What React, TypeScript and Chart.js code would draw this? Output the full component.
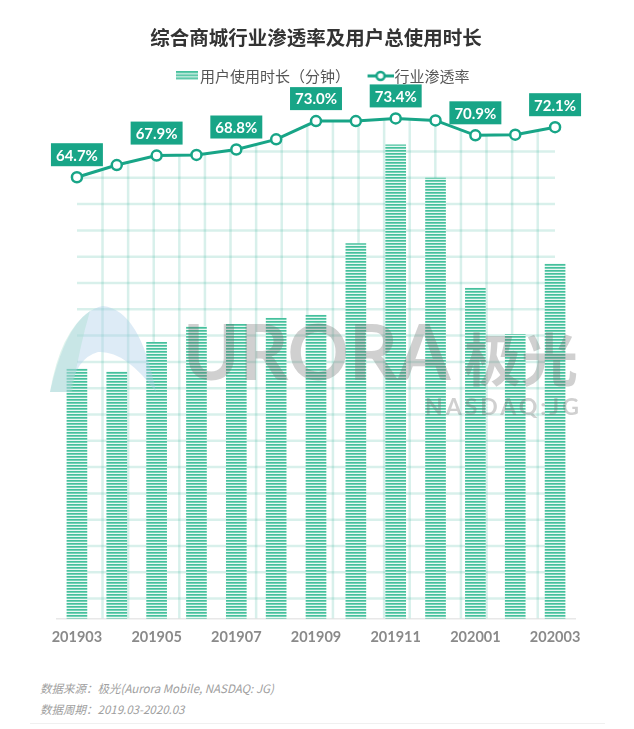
import React, { useEffect, useRef } from 'react';
import { Chart, registerables } from 'chart.js';

Chart.register(...registerables);

const categories = ['201903', '201904', '201905', '201906', '201907', '201908', '201909', '201910', '201911', '201912', '202001', '202002', '202003'];
const usageMinutes = [248, 245, 274, 290, 292, 298, 301, 372, 470, 437, 328, 282, 352];
const penetrationRate = [64.7, 66.5, 67.9, 68.0, 68.8, 70.3, 73.0, 73.0, 73.4, 73.1, 70.9, 71.0, 72.1];
const xTickLabels = ['201903', '201905', '201907', '201909', '201911', '202001', '202003'];
const labeledMonths = ['201903', '201905', '201907', '201909', '201911', '202001', '202003'];

const TITLE = '综合商城行业渗透率及用户总使用时长';
const BAR_LABEL = '用户使用时长（分钟）';
const LINE_LABEL = '行业渗透率';
const SOURCE = '数据来源：极光(Aurora Mobile, NASDAQ: JG)';
const PERIOD = '数据周期：2019.03-2020.03';

const TEAL = '#18a587';
const CJK = "'Noto Sans CJK SC', 'Noto Sans', sans-serif";
const NUM = "Lato, 'Noto Sans CJK SC', sans-serif";
const STRIPES = ['#45c09d', '#74d1b5', '#e9f8f3'];

function stripeCanvas(w: number, h: number, padLeft = 0) {
  const c = document.createElement('canvas');
  c.width = w + padLeft;
  c.height = h;
  const g = c.getContext('2d')!;
  for (let y = 0; y < h; y++) {
    g.fillStyle = STRIPES[y % 3];
    g.fillRect(padLeft, y, w, 1);
  }
  return c;
}

function lineIcon(padLeft: number) {
  const c = document.createElement('canvas');
  c.width = 26 + padLeft;
  c.height = 12;
  const g = c.getContext('2d')!;
  g.strokeStyle = TEAL;
  g.lineWidth = 3;
  g.beginPath();
  g.moveTo(padLeft, 6);
  g.lineTo(padLeft + 26, 6);
  g.stroke();
  g.beginPath();
  g.arc(padLeft + 13, 6, 4, 0, Math.PI * 2);
  g.fillStyle = '#fff';
  g.fill();
  g.lineWidth = 2.5;
  g.stroke();
  return c;
}

const gridPlugin = {
  id: 'underLineGrid',
  beforeDatasetsDraw(chart: any) {
    const meta = chart.getDatasetMeta(1);
    const pts = meta.data;
    if (!pts.length) return;
    const { ctx, chartArea } = chart;
    const bottom = chartArea.bottom;
    const first = pts[0];
    const last = pts[pts.length - 1];
    ctx.save();
    ctx.beginPath();
    ctx.moveTo(first.x, first.y);
    pts.forEach((p: any) => ctx.lineTo(p.x, p.y));
    ctx.lineTo(last.x, bottom);
    ctx.lineTo(first.x, bottom);
    ctx.closePath();
    ctx.clip();
    ctx.strokeStyle = 'rgba(24,165,135,0.17)';
    ctx.lineWidth = 2.5;
    for (let k = 0; k < 18; k++) {
      const y = bottom - 20 - k * 26.3;
      ctx.beginPath();
      ctx.moveTo(first.x, y);
      ctx.lineTo(last.x, y);
      ctx.stroke();
    }
    for (let k = 0; k < 18; k++) {
      const x = first.x + 25.6 * (k + 1);
      ctx.beginPath();
      ctx.moveTo(x, chartArea.top - 40);
      ctx.lineTo(x, bottom);
      ctx.stroke();
    }
    ctx.restore();
  },
};

const labelPlugin = {
  id: 'rateLabels',
  afterDatasetsDraw(chart: any) {
    const meta = chart.getDatasetMeta(1);
    const { ctx } = chart;
    ctx.save();
    ctx.font = `bold 15px ${NUM}`;
    ctx.textAlign = 'center';
    ctx.textBaseline = 'middle';
    meta.data.forEach((pt: any, i: number) => {
      if (!labeledMonths.includes(categories[i])) return;
      const text = penetrationRate[i].toFixed(1) + '%';
      const w = ctx.measureText(text).width + 10;
      const h = 23;
      const x = pt.x - w / 2;
      const y = pt.y - 11 - h;
      ctx.fillStyle = TEAL;
      ctx.fillRect(x, y, w, h);
      ctx.fillStyle = '#fff';
      ctx.fillText(text, pt.x, y + h / 2 + 1);
    });
    ctx.restore();
  },
};

const watermarkPlugin = {
  id: 'watermark',
  afterDraw(chart: any) {
    const { ctx } = chart;
    ctx.save();
    ctx.beginPath();
    ctx.moveTo(50, 392);
    ctx.quadraticCurveTo(68, 312, 103, 306);
    ctx.quadraticCurveTo(140, 310, 156, 392);
    ctx.quadraticCurveTo(125, 350, 98, 352);
    ctx.quadraticCurveTo(76, 358, 70, 392);
    ctx.closePath();
    ctx.fillStyle = 'rgba(170,205,232,0.4)';
    ctx.fill();
    ctx.beginPath();
    ctx.moveTo(50, 392);
    ctx.quadraticCurveTo(60, 332, 90, 311);
    ctx.quadraticCurveTo(80, 345, 72, 392);
    ctx.closePath();
    ctx.fillStyle = 'rgba(160,220,200,0.35)';
    ctx.fill();
    ctx.fillStyle = 'rgba(110,110,110,0.32)';
    ctx.textBaseline = 'alphabetic';
    ctx.textAlign = 'left';
    ctx.font = `bold 76px ${NUM}`;
    ctx.fillText('URORA', 183, 380);
    ctx.font = `bold 57px ${CJK}`;
    ctx.fillText('极光', 464, 381);
    ctx.font = `bold 23px ${NUM}`;
    (ctx as any).letterSpacing = '3px';
    ctx.fillText('NASDAQ:JG', 425, 415);
    ctx.restore();
  },
};

export default function App() {
  const ref = useRef<HTMLCanvasElement>(null);

  useEffect(() => {
    document.body.style.margin = '0';
    const canvas = ref.current!;
    const ctx = canvas.getContext('2d')!;
    const pattern = ctx.createPattern(stripeCanvas(3, 3), 'repeat')!;
    const barIcon = stripeCanvas(22, 9, 19);
    const lIcon = lineIcon(17);

    const chart = new Chart(canvas, {
      type: 'bar',
      data: {
        labels: categories,
        datasets: [
          {
            type: 'bar',
            label: BAR_LABEL,
            data: usageMinutes,
            backgroundColor: pattern as any,
            borderWidth: 0,
            barThickness: 20,
            yAxisID: 'y',
            order: 2,
          },
          {
            type: 'line',
            label: LINE_LABEL,
            data: penetrationRate,
            borderColor: TEAL,
            borderWidth: 3,
            pointRadius: 5,
            pointBorderWidth: 2.5,
            pointBackgroundColor: '#fff',
            pointBorderColor: TEAL,
            tension: 0,
            yAxisID: 'y1',
            order: 1,
            clip: false as any,
          },
        ] as any,
      },
      options: {
        responsive: false,
        animation: false,
        layout: { padding: { left: 57, right: 59, top: 26, bottom: 12 } },
        plugins: {
          title: {
            display: true,
            text: TITLE,
            color: '#333',
            font: { family: CJK, size: 19.5, weight: 'bold' },
            padding: { top: 0, bottom: 12 },
          },
          legend: {
            display: true,
            labels: {
              usePointStyle: true,
              pointStyleWidth: 30,
              padding: 7,
              color: '#555',
              font: { family: CJK, size: 15 },
              generateLabels: () => [
                { text: BAR_LABEL, pointStyle: barIcon as any, fillStyle: 'transparent', strokeStyle: 'transparent', lineWidth: 0, hidden: false, datasetIndex: 0, fontColor: '#555' },
                { text: LINE_LABEL, pointStyle: lIcon as any, fillStyle: 'transparent', strokeStyle: 'transparent', lineWidth: 0, hidden: false, datasetIndex: 1, fontColor: '#555' },
              ] as any,
            },
          },
          tooltip: { enabled: false },
        },
        scales: {
          x: {
            type: 'category',
            grid: { display: false },
            border: { display: true, color: '#e8e8e8', width: 1.5 },
            ticks: {
              autoSkip: false,
              maxRotation: 0,
              padding: 2,
              color: '#8a8a8a',
              font: { family: NUM, size: 14.5, weight: 'bold' },
              callback: (_v: any, idx: number) => (xTickLabels.includes(categories[idx]) ? categories[idx] : ''),
            },
          },
          y: { display: false, min: 0, max: 521 },
          y1: { display: false, min: -0.6, max: 77.1 },
        },
      },
      plugins: [gridPlugin, labelPlugin, watermarkPlugin],
    });
    return () => chart.destroy();
  }, []);

  return (
    <div style={{ position: 'relative', width: 634, height: 729, background: '#fff', overflow: 'hidden' }}>
      <canvas ref={ref} width={634} height={660} style={{ position: 'absolute', left: 0, top: 0, width: 634, height: 660 }} />
      <div style={{ position: 'absolute', left: 40, top: 679, fontFamily: CJK, fontStyle: 'italic', fontSize: 11.5, color: '#a0a0a0', lineHeight: '18px' }}>{SOURCE}</div>
      <div style={{ position: 'absolute', left: 40, top: 700, fontFamily: CJK, fontStyle: 'italic', fontSize: 11.5, color: '#a0a0a0', lineHeight: '18px' }}>{PERIOD}</div>
      <div style={{ position: 'absolute', left: 30, top: 723, width: 575, height: 1, background: '#f0f0f0' }} />
    </div>
  );
}
